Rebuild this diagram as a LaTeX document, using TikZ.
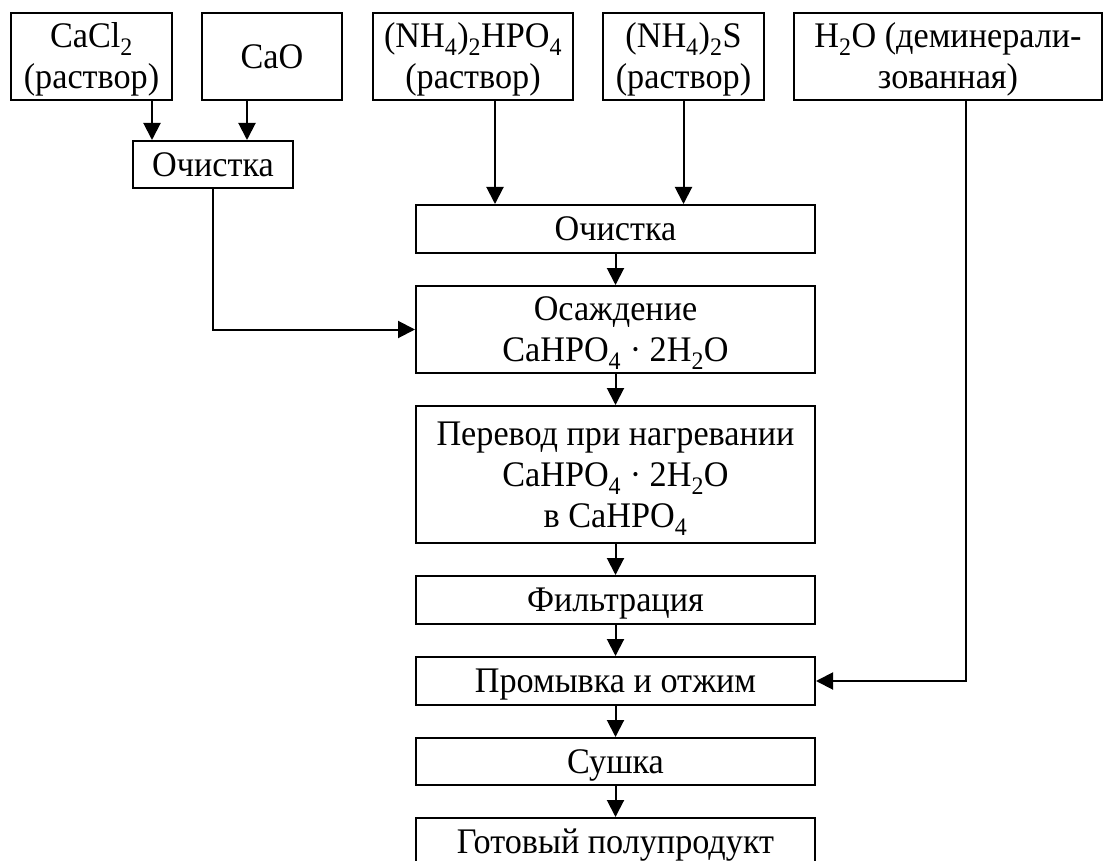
\documentclass[tikz,border=0pt]{standalone}
\usepackage{fontspec}
\setmainfont{Liberation Serif}[FakeStretch=0.95]
\usetikzlibrary{arrows.meta}
\newcommand{\sbs}[1]{\textsubscript{#1}}
\begin{document}
\begin{tikzpicture}[x=1pt,y=-1pt,
  box/.style={draw, line width=2pt, inner sep=0pt, align=center,
    font=\fontsize{36}{41}\selectfont, text height=23.6pt, text depth=0pt},
  twol/.style={text height=64.6pt},
  threel/.style={text height=105.6pt},
  arr/.style={line width=2pt, -{Triangle[length=17pt,width=17pt]}}]
\useasboundingbox (0,0) rectangle (1103,861);
\clip (0,0) rectangle (1103,861);
% top inputs
\node[box, twol, minimum width=161, minimum height=87] (cacl) at (91.5,56.5) {CaCl\sbs{2}\\(раствор)};
\node[box, minimum width=140, minimum height=87] (cao) at (272,56.5) {CaO};
\node[box, twol, minimum width=200, minimum height=87] (hpo) at (473,56.5) {(NH\sbs{4})\sbs{2}HPO\sbs{4}\\(раствор)};
\node[box, twol, minimum width=161, minimum height=87] (nhs) at (683.5,56.5) {(NH\sbs{4})\sbs{2}S\\(раствор)};
\node[box, twol, minimum width=308, minimum height=87] (water) at (948,56.5) {H\sbs{2}O (деминерали-\\зованная)};
% left purification
\node[box, minimum width=160, minimum height=47] (och1) at (213,164.5) {Очистка};
% main column
\node[box, minimum width=399, minimum height=48] (och2) at (615.5,229) {Очистка};
\node[box, twol, minimum width=399, minimum height=87] (osazh) at (615.5,329.5) {Осаждение\\CaHPO\sbs{4} · 2H\sbs{2}O};
\node[box, threel, minimum width=399, minimum height=137] (perev) at (615.5,474.5) {Перевод при нагревании\\CaHPO\sbs{4} · 2H\sbs{2}O\\в CaHPO\sbs{4}};
\node[box, minimum width=399, minimum height=48] (filtr) at (615.5,600) {Фильтрация};
\node[box, minimum width=399, minimum height=48] (promyv) at (615.5,681) {Промывка и отжим};
\node[box, minimum width=399, minimum height=47] (sush) at (615.5,761.5) {Сушка};
\node[box, minimum width=399, minimum height=48] (gotov) at (615.5,842) {Готовый полупродукт};
% connectors
\draw[arr] ([xshift=60.5]cacl.south) -- ([xshift=60.5]cacl.south |- och1.north);
\draw[arr] ([xshift=-25]cao.south) -- ([xshift=-25]cao.south |- och1.north);
\draw[arr] ([xshift=22]hpo.south) -- ([xshift=22]hpo.south |- och2.north);
\draw[arr] (nhs.south) -- (nhs.south |- och2.north);
\draw[arr] (och1.south) |- (osazh.west);
\draw[arr] (och2) -- (osazh);
\draw[arr] (osazh) -- (perev);
\draw[arr] (perev) -- (filtr);
\draw[arr] (filtr) -- (promyv);
\draw[arr] (promyv) -- (sush);
\draw[arr] (sush) -- (gotov);
\draw[arr] ([xshift=18]water.south) |- (promyv.east);
\end{tikzpicture}
\end{document}
